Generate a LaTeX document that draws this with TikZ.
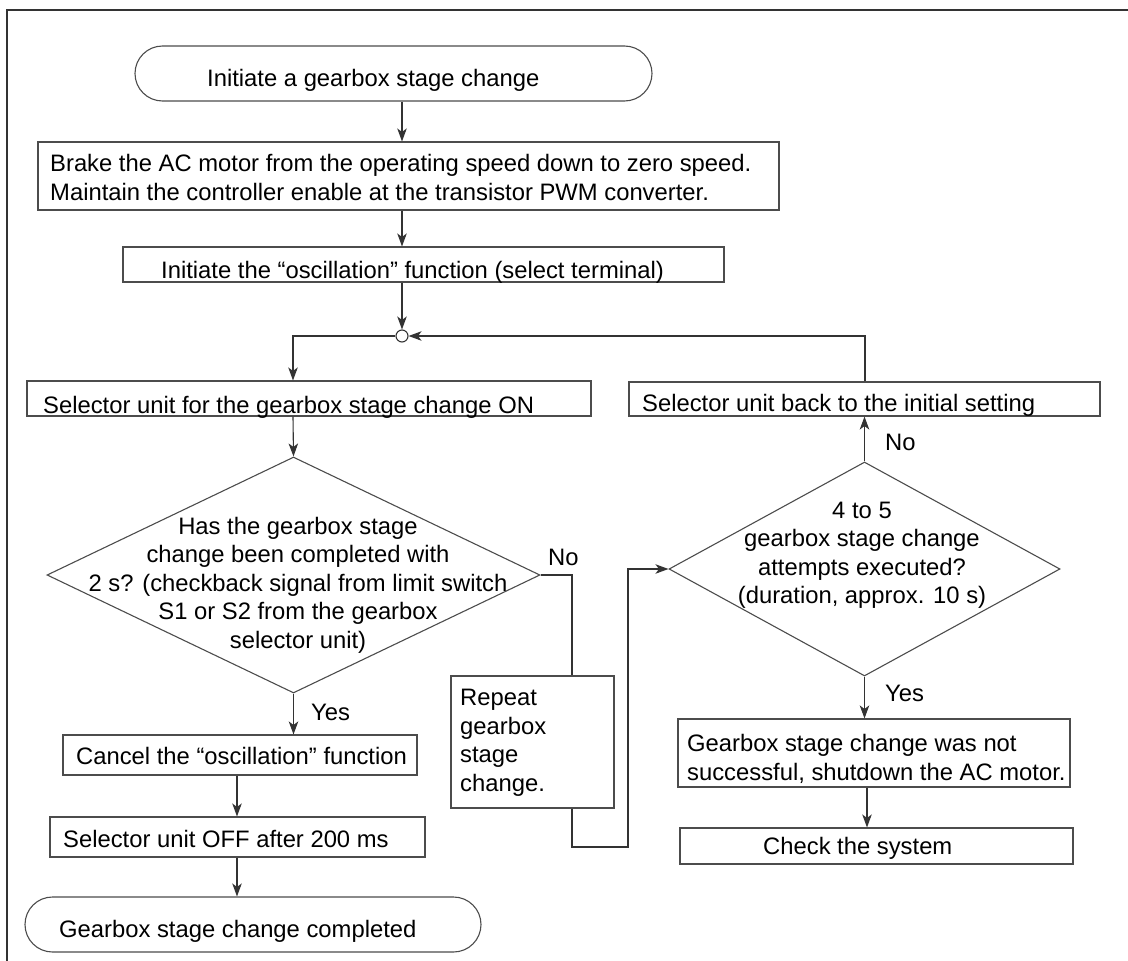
\documentclass[tikz,border=0pt]{standalone}
\usepackage{fontspec}
\setmainfont{Liberation Sans}
\usetikzlibrary{shapes.geometric,shapes.misc,arrows.meta}
\begin{document}
\begin{tikzpicture}[x=1pt,y=-1pt,
  ln/.style={draw=black!70, line width=1.1pt},
  box/.style={rectangle, ln, inner sep=0pt},
  term/.style={rounded rectangle, ln, inner sep=0pt},
  dec/.style={diamond, ln, inner sep=0pt},
  txt/.style={anchor=base west, inner sep=0pt, font=\fontsize{23.8}{28.4}\selectfont, align=left},
  ctxt/.style={anchor=base, inner sep=0pt, font=\fontsize{23.8}{28.4}\selectfont, align=center},
  arr/.style={ln, draw=black!80, -{Stealth[length=13pt,width=9.5pt,inset=3.5pt]}},
  conn/.style={ln, draw=black!80},
]
\useasboundingbox (0,0) rectangle (1128,961);
% frame
\draw[draw=black!80, line width=1.6pt] (7,961) -- (7,10) -- (1128,10);

% shapes
\node[term, minimum width=517pt, minimum height=55pt] (start) at (393.5,73.5) {};
\node[box, minimum width=741pt, minimum height=68pt] (b1) at (408.5,176) {};
\node[box, minimum width=601pt, minimum height=35pt] (b2) at (423.5,264.5) {};
\node[circle, ln, draw=black!80, minimum size=12pt, inner sep=0pt] (J) at (402,336) {};
\node[box, minimum width=564pt, minimum height=35pt] (b3) at (309,398.5) {};
\node[dec, minimum width=493pt, minimum height=236pt] (d1) at (293.5,575) {};
\node[box, minimum width=471pt, minimum height=34pt] (b4) at (864.5,399) {};
\node[dec, minimum width=391pt, minimum height=214pt] (d2) at (864.5,569) {};
\node[box, minimum width=163pt, minimum height=132pt] (rep) at (532.5,742) {};
\node[box, minimum width=354pt, minimum height=40pt] (b5) at (240,755) {};
\node[box, minimum width=375pt, minimum height=40pt] (b6) at (237.5,837) {};
\node[term, minimum width=456pt, minimum height=55pt] (endt) at (253,924.5) {};
\node[box, minimum width=392pt, minimum height=68pt] (b7) at (874,753) {};
\node[box, minimum width=393pt, minimum height=36pt] (b8) at (876.5,846) {};

% texts (base anchor = baseline of the last line)
\node[txt] (tstart) at (207,86) {Initiate a gearbox stage change};
\node[txt] (tb1) at (50,200) {Brake the AC motor from the operating speed down to zero speed.\\Maintain the controller enable at the transistor PWM converter.};
\node[txt] (tb2) at (161,278) {Initiate the “oscillation” function (select terminal)};
\node[txt] (tb3) at (43,413) {Selector unit for the gearbox stage change ON};
\node[txt] (tb4) at (642,411) {Selector unit back to the initial setting};
\node[ctxt] (td1) at (298,648) {Has the gearbox stage\\change been completed with\\2 s? (checkback signal from limit switch\\S1 or S2 from the gearbox\\selector unit)};
\node[ctxt] (td2) at (862,603.5) {4 to 5\\gearbox stage change\\attempts executed?\\(duration, approx. 10 s)};
\node[txt] (trep) at (460,791) {Repeat\\gearbox\\stage\\change.};
\node[txt] (tb5) at (76,764) {Cancel the “oscillation” function};
\node[txt] (tb6) at (63,847) {Selector unit OFF after 200 ms};
\node[txt] (tend) at (59,937) {Gearbox stage change completed};
\node[txt] (tb7) at (687,780) {Gearbox stage change was not\\successful, shutdown the AC motor.};
\node[txt] (tb8) at (763,854) {Check the system};

% labels
\node[txt] (no1) at (548,565) {No};
\node[txt] (no2) at (885,450) {No};
\node[txt] (yes1) at (311,720) {Yes};
\node[txt] (yes2) at (885,701) {Yes};

% helper coordinates
\coordinate (sp) at (402,0);
\coordinate (lc) at (293,0);
\coordinate (rc) at (865,0);
\coordinate (bc) at (237,0);
\coordinate (nx) at (572,0);
\coordinate (rx) at (628,0);
\coordinate (ry) at (0,847);
\coordinate (b7x) at (867,0);

% connectors
\draw[arr] (start.south -| sp) -- (b1.north -| sp);
\draw[arr] (b1.south -| sp) -- (b2.north -| sp);
\draw[arr] (b2.south -| sp) -- (J.north);
\draw[arr] (J.west) -| (b3.north -| lc);
\draw[arr] (b3.south -| lc) -- (d1.north);
\draw[arr] (d1.south) -- (b5.north -| d1.south);
\draw[arr] (b5.south -| bc) -- (b6.north -| bc);
\draw[arr] (b6.south -| bc) -- (endt.north -| bc);
\draw[conn] (d1.east) -| (rep.north -| nx);
\draw[arr] (rep.south -| nx) -- (ry -| nx) -- (ry -| rx) -- (d2.west -| rx) -- (d2.west);
\draw[arr] (d2.north) -- (b4.south -| d2.north);
\draw[arr] (b4.north -| rc) |- (J.east);
\draw[arr] (d2.south) -- (b7.north -| d2.south);
\draw[arr] (b7.south -| b7x) -- (b8.north -| b7x);
\end{tikzpicture}
\end{document}
